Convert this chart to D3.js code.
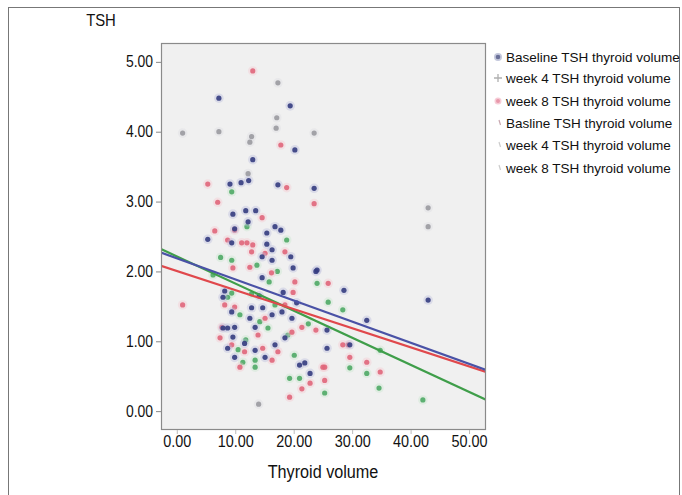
<!DOCTYPE html>
<html>
<head>
<meta charset="utf-8">
<script src="https://cdn.jsdelivr.net/npm/d3@7"></script>
<style>
  body { margin: 0; background: #fff; }
  svg text { font-family: "Liberation Sans", Arial, sans-serif; fill: #111; }
</style>
</head>
<body>
<div id="chart"></div>
<script>
// TSH vs thyroid volume, SPSS-style scatter with fit lines

// Axis ticks
const xTicks = [0, 10, 20, 30, 40, 50];
const yTicks = [0, 1, 2, 3, 4, 5];

// Baseline TSH (navy dots)
const baseline = [
  [7.2,4.48],[19.4,4.37],[20.2,3.74],[13.0,3.6],[9.1,3.25],[11.0,3.27],[12.3,3.3],[17.3,3.24],
  [23.5,3.19],[9.6,2.82],[11.8,2.87],[13.5,2.87],[12.2,2.71],[5.3,2.46],[9.9,2.61],[15.4,2.55],
  [16.8,2.64],[17.8,2.59],[9.4,2.41],[15.4,2.39],[16.3,2.31],[16.3,2.16],[14.6,2.21],[14.6,1.91],
  [19.5,2.21],[19.9,2.05],[23.8,2.0],[28.6,1.73],[32.5,1.30],[25.7,1.16],[25.7,0.9],[29.6,0.95],
  [43,1.59],[7.9,1.63],[9.4,1.42],[12.8,1.48],[12.5,1.33],[13.4,1.2],[9.9,1.2],[8.7,1.19],
  [7.9,1.19],[9.6,1.06],[11.6,0.97],[8.7,0.9],[13.4,0.87],[16.8,0.95],[16.3,1.38],[18,1.42],
  [14.7,1.48],[19.7,1.33],[18.5,1.05],[9.9,0.77],[15.1,0.77],[21,0.66],[22.8,0.54],[21.9,0.69],
  [24,2.02],[8.2,1.72],[20.5,1.55],[18.2,1.7],[14.1,1.65]
];

// Week 4 TSH (green dots)
const week4 = [
  [9.4,3.14],[12,2.64],[9.4,2.16],[13.7,2.09],[24,1.83],[28.4,1.45],[25.9,1.56],[34.8,0.87],
  [29.6,0.62],[32.5,0.54],[34.6,0.33],[25.3,0.26],[42.1,0.16],[13.4,0.63],[19.3,0.47],[21,0.47],
  [8.7,1.63],[10.8,1.38],[15.6,1.19],[14.2,1.28],[11.3,0.7],[13.4,0.73],[19,1.09],[16.8,1.52],
  [12.8,1.68],[9.4,1.69],[6.2,1.95],[17.2,2.0],[22.5,1.25],[20.1,0.8],[11.8,1.02],[15.8,1.85],
  [7.5,2.2],[18.8,2.45],[10.5,0.88]
];

// Week 8 TSH (red dots)
const week8 = [
  [13,4.87],[17.8,3.81],[5.3,3.25],[18.8,3.2],[23.5,2.97],[25.9,1.83],[7.0,2.99],[14.6,2.77],
  [9.9,2.59],[11.1,2.41],[12,2.41],[13,2.38],[12.8,2.28],[15.1,2.26],[9.6,2.05],[12.5,2.06],
  [18.5,2.28],[8.7,2.45],[20.2,1.85],[19.9,1.7],[21.4,1.2],[29.3,0.95],[29.6,0.77],[32.5,0.7],
  [25.3,0.63],[34.8,0.56],[28.4,0.95],[25.3,0.44],[22.8,0.4],[23.8,1.16],[10.8,0.63],[25,0.63],
  [21.4,0.32],[19.3,0.2],[8.2,1.52],[9.9,1.49],[7.7,1.2],[7.4,1.05],[9.4,0.95],[11.6,0.85],
  [13.9,1.09],[15.1,1.33],[18.5,1.52],[14.7,0.9],[17.3,0.85],[19.7,1.13],[16.3,0.73],[1.0,1.52],
  [6.5,2.58],[16.2,1.98]
];

// Faded grey markers
const greyPts = [
  [1.0,3.98],[7.2,4.0],[17.1,4.2],[17.0,4.05],[17.3,4.7],[23.5,3.98],[12.5,3.85],[12.8,3.93],
  [12.2,3.4],[43,2.91],[43,2.64],[14,0.1]
];

// Linear fit lines: intercept, slope
const fitNames = ["week 4", "week 8", "Baseline"];
const fitIntercepts = [2.215, 2.006, 2.188];
const fitSlopes = [-0.0388, -0.0273, -0.0302];
const fitColors = ["#3f9e4a", "#e0484c", "#4a52a6"];

const legendLabels = [
  "Baseline TSH thyroid volume",
  "week 4 TSH thyroid volume",
  "week 8 TSH thyroid volume",
  "Basline TSH thyroid volume",
  "week 4 TSH thyroid volume",
  "week 8 TSH thyroid volume"
];

const W = 682, H = 495;
const svg = d3.select("#chart").append("svg")
  .attr("width", W).attr("height", H);

// squeeze text horizontally to mimic the narrow font of the original
function condense(sel, f) {
  sel.each(function () {
    const len = this.getComputedTextLength();
    d3.select(this).attr("textLength", len * f).attr("lengthAdjust", "spacingAndGlyphs");
  });
}

// outer frame
svg.append("rect")
  .attr("x", 8.5).attr("y", 7.5).attr("width", 671).attr("height", 500)
  .attr("fill", "#fff").attr("stroke", "#777").attr("stroke-width", 1);

const plot = { left: 161, top: 43, right: 486, bottom: 430 };

const x = d3.scaleLinear().domain([-2.7, 52.9]).range([plot.left, plot.right]);
const y = d3.scaleLinear().domain([-0.27, 5.27]).range([plot.bottom, plot.top]);

svg.append("rect")
  .attr("x", plot.left).attr("y", plot.top)
  .attr("width", plot.right - plot.left).attr("height", plot.bottom - plot.top)
  .attr("fill", "#f0f0f0");

svg.append("clipPath").attr("id", "clip")
  .append("rect")
  .attr("x", plot.left).attr("y", plot.top)
  .attr("width", plot.right - plot.left).attr("height", plot.bottom - plot.top);

const g = svg.append("g").attr("clip-path", "url(#clip)");

// points with soft halo
function drawPoints(data, color, halo) {
  g.append("g").selectAll("circle").data(data).join("circle")
    .attr("cx", d => x(d[0])).attr("cy", d => y(d[1]))
    .attr("r", 4.8).attr("fill", halo).attr("opacity", 0.4);
  g.append("g").selectAll("circle").data(data).join("circle")
    .attr("cx", d => x(d[0])).attr("cy", d => y(d[1]))
    .attr("r", 2.6).attr("fill", color).attr("opacity", 0.9);
}

drawPoints(greyPts, "#9a9aa0", "#dcdce0");
drawPoints(week4, "#4faa66", "#c8e6cc");
drawPoints(week8, "#e0667a", "#f6c8d0");
drawPoints(baseline, "#343c80", "#b8bcdc");

// fit lines
const xd = x.domain();
fitNames.forEach((name, i) => {
  g.append("line")
    .attr("x1", x(xd[0])).attr("y1", y(fitIntercepts[i] + fitSlopes[i] * xd[0]))
    .attr("x2", x(xd[1])).attr("y2", y(fitIntercepts[i] + fitSlopes[i] * xd[1]))
    .attr("stroke", fitColors[i]).attr("stroke-width", 2.2);
});

// plot frame
svg.append("rect")
  .attr("x", plot.left + 0.5).attr("y", plot.top + 0.5)
  .attr("width", plot.right - plot.left - 1).attr("height", plot.bottom - plot.top - 1)
  .attr("fill", "none").attr("stroke", "#8a8a8a").attr("stroke-width", 1.2);

// y axis
const yAxis = svg.append("g")
  .attr("transform", `translate(${plot.left},0)`)
  .call(d3.axisLeft(y).tickValues(yTicks).tickFormat(d3.format(".2f")).tickSize(5).tickPadding(3));
yAxis.select(".domain").remove();
yAxis.selectAll("line").attr("stroke", "#888");
yAxis.selectAll("text").attr("font-size", 16).style("font-family", null);
condense(yAxis.selectAll("text"), 0.87);

// x axis
const xAxis = svg.append("g")
  .attr("transform", `translate(0,${plot.bottom})`)
  .call(d3.axisBottom(x).tickValues(xTicks).tickFormat(d3.format(".2f")).tickSize(4).tickPadding(2));
xAxis.select(".domain").remove();
xAxis.selectAll("line").attr("stroke", "#bbb");
xAxis.selectAll("text").attr("font-size", 16).style("font-family", null);
condense(xAxis.selectAll("text"), 0.9);

// titles
const tsh = svg.append("text").attr("x", 101).attr("y", 26).attr("text-anchor", "middle")
  .attr("font-size", 16.5).text("TSH");
condense(tsh, 0.9);
const xt = svg.append("text").attr("x", 323).attr("y", 478).attr("text-anchor", "middle")
  .attr("font-size", 18).text("Thyroid volume");
condense(xt, 0.9);

// legend
const legY = [57, 78, 101, 123, 145, 168];
const leg = svg.append("g");
legendLabels.forEach((lab, i) => {
  const ly = legY[i];
  leg.append("text").attr("x", 506).attr("y", ly + 5)
    .attr("font-size", 13.5).text(lab);
  if (i === 0) {
    leg.append("circle").attr("cx", 498).attr("cy", ly).attr("r", 4).attr("fill", "#c4c8dc");
    leg.append("circle").attr("cx", 498).attr("cy", ly).attr("r", 2.3).attr("fill", "#6a7098");
  } else if (i === 1) {
    leg.append("path").attr("d", `M494,${ly}h8M498,${ly - 4}v8`)
      .attr("stroke", "#b0b0b0").attr("stroke-width", 1.3);
  } else if (i === 2) {
    leg.append("circle").attr("cx", 498).attr("cy", ly).attr("r", 3.5).attr("fill", "#f6ccd6");
    leg.append("circle").attr("cx", 498).attr("cy", ly).attr("r", 2).attr("fill", "#e898aa");
  } else {
    leg.append("path").attr("d", `M499,${ly - 3}l1.5,5`)
      .attr("stroke", i === 3 ? "#c8a8b0" : "#cccccc").attr("stroke-width", 1.2);
  }
});
</script>
</body>
</html>
